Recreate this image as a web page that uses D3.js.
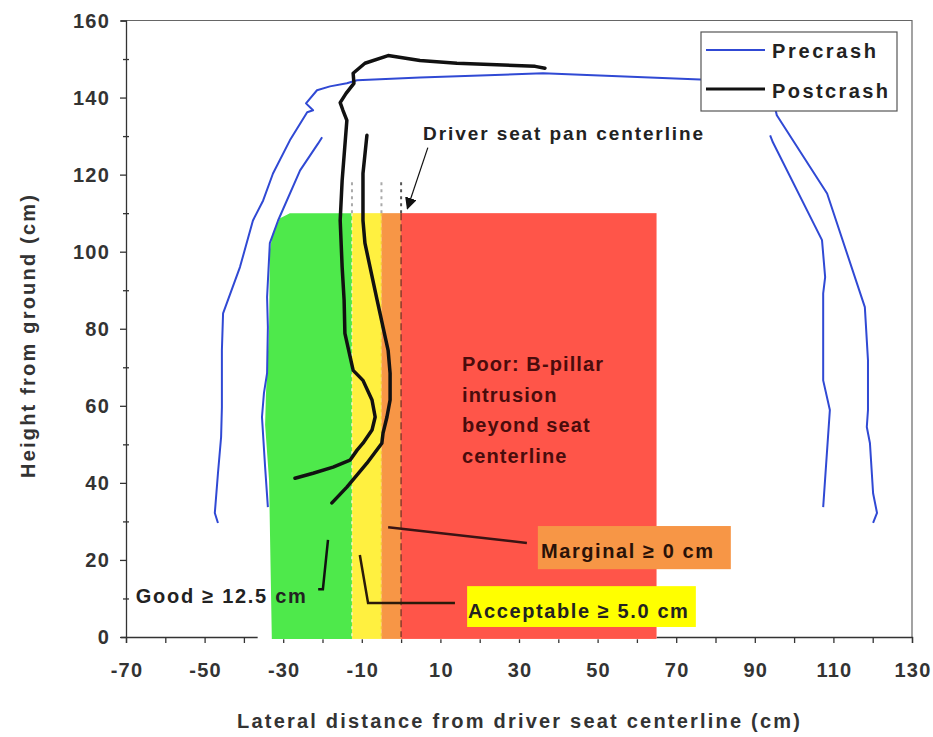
<!DOCTYPE html>
<html lang="en">
<head>
  <meta charset="UTF-8">
  <title>B-pillar intrusion</title>
  <style>
    body { margin: 0; background: #fff; font-family: Arial, 'Liberation Sans', sans-serif; }
    text { font-weight: bold; }
  </style>
  <script src="https://d3js.org/d3.v7.min.js"></script>
</head>
<body>
<script>
  // Precrash outline (blue): [lateral cm, height cm]
  const preOuter = [[-46.6,29.6],[-47.4,32.2],[-46.6,42.5],[-45.8,51.9],[-45.6,59.6],[-45.6,74.4],[-45.3,84.0],
    [-41.0,96.0],[-37.7,108.1],[-35.1,113.3],[-32.6,120.3],[-28.3,128.9],[-23.9,136.2],[-22.4,136.7],[-24.2,138.5],
    [-21.4,141.9],[-18.1,142.9],[-13.8,143.7],[-11.2,144.5],[4.8,145.2],[36.1,146.3],[76.1,144.7],[91.3,143.9],
    [94.4,140.6],[95.6,135.4],[108.4,115.1],[118.0,85.6],[118.8,71.8],[118.8,58.9],[118.5,54.5],[119.3,50.3],
    [120.1,37.3],[121.1,32.2],[120.1,29.6]];
  const preInnerLeft = [[-20.1,129.7],[-21.1,128.1],[-25.7,121.1],[-31.3,108.1],[-33.4,102.2],[-34.1,88.2],
    [-33.9,80.4],[-34.1,68.5],[-34.9,63.3],[-35.4,57.1],[-34.6,44.1],[-33.9,33.7]];
  const preInnerRight = [[93.9,130.2],[94.6,128.4],[107.1,103.0],[107.9,93.4],[107.4,89.2],[107.4,66.6],
    [109.1,58.9],[107.4,33.7]];

  // Postcrash outline (black)
  const postOuter = [[36.6,147.6],[34.1,148.1],[14.2,148.9],[4.8,149.6],[-3.3,150.9],[-9.2,148.9],[-12.2,146.3],
    [-12.0,143.7],[-14.0,141.1],[-15.5,138.7],[-14.8,136.7],[-13.8,134.1],[-15.0,118.5],[-15.5,108.1],[-15.0,96.0],
    [-14.5,87.4],[-14.3,78.8],[-12.2,69.2],[-9.7,66.6],[-7.4,61.5],[-6.6,57.1],[-7.4,53.7],[-9.7,50.3],[-11.2,48.5],
    [-13.0,45.9],[-17.3,44.1],[-22.4,42.5],[-27.0,41.2]];
  const postInner = [[-8.7,130.2],[-9.7,120.3],[-9.7,108.1],[-9.2,102.2],[-7.9,96.0],[-6.1,87.4],[-4.6,80.4],
    [-3.3,74.4],[-2.8,68.5],[-2.8,61.5],[-3.6,57.1],[-4.6,52.9],[-4.9,50.3],[-8.7,45.1],[-13.8,38.9],[-17.6,34.8]];

  // rating zones (lateral cm) and zone top height
  const zones = [
    { name: "Acceptable", x0: -12.5, x1: -5, color: "#fff040" },
    { name: "Marginal", x0: -5, x1: 0, color: "#f79646" },
    { name: "Poor", x0: 0, x1: 65, color: "#ff5549" }
  ];
  const zoneTop = 110;
  // left edge of the "Good" zone, bottom to top
  const goodEdge = [[-32.9,0],[-33.6,40.7],[-34.6,55.0],[-34.4,62.8],[-33.6,79.6],[-33.4,100.4],[-32.6,105.0],
    [-30.8,108.7],[-28.3,110]];
  const goodRight = -12.5;
  const boundaries = [-12.5, -5, 0];

  const xTicks = d3.range(-70, 131, 10);
  const xLabels = [-70, -50, -30, -10, 10, 30, 50, 70, 90, 110, 130];
  const yTicks = d3.range(0, 161, 10);
  const yLabels = [0, 20, 40, 60, 80, 100, 120, 140, 160];

  const width = 933, height = 737;
  const margin = { top: 20.5, right: 21, bottom: 100, left: 126 };

  const svg = d3.select("body").append("svg")
    .attr("width", width)
    .attr("height", height);

  const x = d3.scaleLinear().domain([-70, 130]).range([margin.left, width - margin.right]);
  const y = d3.scaleLinear().domain([0, 160]).range([height - margin.bottom, margin.top]);

  // frame (top and right)
  svg.append("path")
    .attr("d", `M${x(-70)},${y(160)}H${x(130)}V${y(0)}`)
    .attr("fill", "none").attr("stroke", "#666").attr("stroke-width", 1.2);

  // axes
  const xAxis = svg.append("g")
    .attr("transform", `translate(0,${y(0)})`)
    .call(d3.axisBottom(x).tickValues(xTicks).tickSize(6).tickFormat(""));
  const yAxis = svg.append("g")
    .attr("transform", `translate(${x(-70)},0)`)
    .call(d3.axisLeft(y).tickValues(yTicks).tickSize(5).tickFormat(""));
  [xAxis, yAxis].forEach(g => {
    g.selectAll("path, line").attr("stroke", "#333").attr("stroke-width", 1.3);
  });
  yAxis.selectAll(".tick line").attr("x2", d => yLabels.includes(d) ? -6 : -3).attr("x1", d => yLabels.includes(d) ? 0 : 3);

  svg.append("g").selectAll("text")
    .data(xLabels).join("text")
    .attr("x", d => x(d) + 1).attr("y", y(0) + 40)
    .attr("text-anchor", "middle")
    .attr("font-size", 20).attr("letter-spacing", 1.2).attr("fill", "#333")
    .text(d => d);
  svg.append("g").selectAll("text")
    .data(yLabels).join("text")
    .attr("x", x(-70) - 16).attr("y", d => y(d) + 7)
    .attr("text-anchor", "end")
    .attr("font-size", 20).attr("letter-spacing", 1.2).attr("fill", "#333")
    .text(d => d);

  // axis titles
  svg.append("text")
    .attr("x", 237).attr("y", 728)
    .attr("font-size", 20).attr("fill", "#333")
    .attr("textLength", 563).attr("lengthAdjust", "spacing")
    .text("Lateral distance from driver seat centerline (cm)");
  svg.append("text")
    .attr("transform", `translate(35,478) rotate(-90)`)
    .attr("font-size", 20).attr("fill", "#333")
    .attr("textLength", 283).attr("lengthAdjust", "spacing")
    .text("Height from ground (cm)");

  // zones
  svg.append("rect")
    .attr("x", x(-36.5)).attr("width", x(65) - x(-36.5))
    .attr("y", y(0.6)).attr("height", y(-0.6) - y(0.6))
    .attr("fill", "#fff");
  const goodPoly = goodEdge.concat([[goodRight, zoneTop], [goodRight, -0.5], [goodEdge[0][0], -0.5]]);
  svg.append("path")
    .attr("d", d3.line().x(d => x(d[0])).y(d => y(d[1])).curve(d3.curveLinearClosed)(goodPoly))
    .attr("fill", "#4ee94b");
  svg.append("g").selectAll("rect")
    .data(zones).join("rect")
    .attr("x", d => x(d.x0)).attr("width", d => x(d.x1) - x(d.x0))
    .attr("y", y(zoneTop)).attr("height", y(-0.5) - y(zoneTop))
    .attr("fill", d => d.color);

  // zone boundaries
  boundaries.forEach(b => {
    const centre = b === 0;
    svg.append("line")
      .attr("x1", x(b)).attr("x2", x(b)).attr("y1", y(118)).attr("y2", y(zoneTop))
      .attr("stroke", centre ? "#555" : "#aaa").attr("stroke-width", 2)
      .attr("stroke-dasharray", "3,4");
    svg.append("line")
      .attr("x1", x(b)).attr("x2", x(b)).attr("y1", y(zoneTop)).attr("y2", y(0))
      .attr("stroke", centre ? "#8a3a2c" : (b === -12.5 ? "#f4f4c0" : "#f5c040")).attr("stroke-width", 1.5)
      .attr("stroke-dasharray", centre ? "7,4" : "3,4");
  });

  const line = d3.line().x(d => x(d[0])).y(d => y(d[1]));

  // curves
  [preOuter, preInnerLeft, preInnerRight].forEach(s => {
    svg.append("path").attr("d", line(s))
      .attr("fill", "none").attr("stroke", "#3049d4").attr("stroke-width", 2).attr("stroke-linejoin", "round");
  });
  [postOuter, postInner].forEach(s => {
    svg.append("path").attr("d", line(s))
      .attr("fill", "none").attr("stroke", "#111").attr("stroke-width", 3.5)
      .attr("stroke-linejoin", "round").attr("stroke-linecap", "round");
  });

  // annotation: seat centerline arrow
  svg.append("defs").append("marker")
    .attr("id", "arrow").attr("viewBox", "0 0 10 10").attr("refX", 9).attr("refY", 5)
    .attr("markerWidth", 12).attr("markerHeight", 12).attr("markerUnits", "userSpaceOnUse")
    .attr("orient", "auto")
    .append("path").attr("d", "M0,0L10,5L0,10Z").attr("fill", "#111");
  svg.append("line")
    .attr("x1", x(6.8)).attr("y1", y(127)).attr("x2", x(1.6)).attr("y2", y(111.2))
    .attr("stroke", "#111").attr("stroke-width", 1.2).attr("marker-end", "url(#arrow)");
  svg.append("text")
    .attr("x", x(5.6)).attr("y", y(128.9))
    .attr("font-size", 19).attr("fill", "#222")
    .attr("textLength", 280).attr("lengthAdjust", "spacing")
    .text("Driver seat pan centerline");

  // Poor label
  const poorText = svg.append("text")
    .attr("x", x(15.5)).attr("y", y(69))
    .attr("font-size", 20).attr("letter-spacing", 1.1).attr("fill", "#4a0c0c");
  ["Poor: B-pillar", "intrusion", "beyond seat", "centerline"].forEach((t, i) => {
    poorText.append("tspan").attr("x", x(15.5)).attr("dy", i ? 30.6 : 0).text(t);
  });

  // label boxes
  svg.append("rect")
    .attr("x", x(34.8)).attr("width", x(83.9) - x(34.8))
    .attr("y", y(28.8)).attr("height", y(17.6) - y(28.8))
    .attr("fill", "#f79646");
  svg.append("rect")
    .attr("x", x(16.8)).attr("width", x(75) - x(16.8))
    .attr("y", y(13.2)).attr("height", y(2.6) - y(13.2))
    .attr("fill", "#ffff00");

  const leaders = [
    { pts: [[-3.3, 28.5], [32.0, 24.4]], color: "#3a1414" },
    { pts: [[-10.5, 21.3], [-8.4, 8.8], [13.7, 8.8]], color: "#2a1a0a" },
    { pts: [[-18.6, 25.2], [-19.9, 12.4], [-21.1, 12.4]], color: "#111" }
  ];
  leaders.forEach(l => {
    svg.append("path").attr("d", line(l.pts))
      .attr("fill", "none").attr("stroke", l.color).attr("stroke-width", 2.5);
  });

  svg.append("text")
    .attr("x", x(35.6)).attr("y", y(20.5))
    .attr("font-size", 20).attr("fill", "#2a1208")
    .attr("textLength", 172).attr("lengthAdjust", "spacing")
    .text("Marginal ≥ 0 cm");
  svg.append("text")
    .attr("x", x(17)).attr("y", y(4.9))
    .attr("font-size", 20).attr("fill", "#222")
    .attr("textLength", 220).attr("lengthAdjust", "spacing")
    .text("Acceptable ≥ 5.0 cm");
  svg.append("text")
    .attr("x", x(-67.5)).attr("y", y(8.8))
    .attr("font-size", 20).attr("fill", "#222")
    .attr("textLength", 170).attr("lengthAdjust", "spacing")
    .text("Good ≥ 12.5 cm");

  // legend
  const legend = svg.append("g").attr("transform", "translate(701,32)");
  legend.append("rect").attr("width", 196).attr("height", 79)
    .attr("fill", "#fff").attr("stroke", "#555").attr("stroke-width", 1.2);
  [{ label: "Precrash", color: "#3049d4", w: 2, len: 104 }, { label: "Postcrash", color: "#111", w: 3, len: 116 }]
    .forEach((d, i) => {
      legend.append("line").attr("x1", 5).attr("x2", 64).attr("y1", 18 + i * 39).attr("y2", 18 + i * 39)
        .attr("stroke", d.color).attr("stroke-width", d.w);
      legend.append("text").attr("x", 71).attr("y", 26 + i * 40)
        .attr("font-size", 20).attr("fill", "#222")
        .attr("textLength", d.len).attr("lengthAdjust", "spacing")
        .text(d.label);
    });
</script>
</body>
</html>
